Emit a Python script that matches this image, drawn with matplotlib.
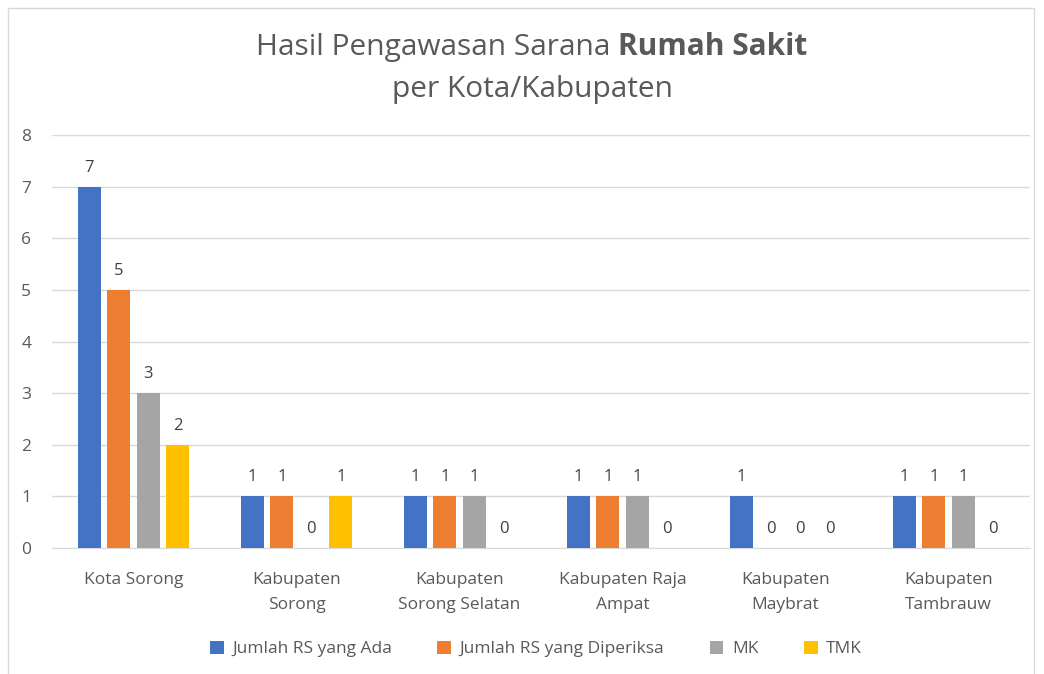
import matplotlib.pyplot as plt
import numpy as np
from matplotlib.patches import Rectangle

plt.rcParams['font.family'] = ['Open Sans', 'DejaVu Sans']

categories = ["Kota Sorong", "Kabupaten\nSorong", "Kabupaten\nSorong Selatan",
              "Kabupaten Raja\nAmpat", "Kabupaten\nMaybrat", "Kabupaten\nTambrauw"]
series_names = ["Jumlah RS yang Ada", "Jumlah RS yang Diperiksa", "MK", "TMK"]
rs_ada = [7, 1, 1, 1, 1, 1]
rs_diperiksa = [5, 1, 1, 1, 0, 1]
mk = [3, 0, 1, 1, 0, 1]
tmk = [2, 1, 0, 0, 0, 0]
colors = ["#4472C4", "#ED7D31", "#A5A5A5", "#FFC000"]

text_col = "#595959"

fig = plt.figure(figsize=(10.44, 6.74), dpi=100)
fig.patches.append(Rectangle((8 / 1044, -0.01), 1026 / 1044, 1 - 8 / 674 + 0.01,
                             transform=fig.transFigure, fill=False,
                             edgecolor="#D9D9D9", linewidth=1))

ax = fig.add_axes([52 / 1044, 1 - 548 / 674, 978 / 1044, 413 / 674])

x = np.arange(len(categories))
width = 0.142
step = 0.181
for i, (vals, name, c) in enumerate(zip([rs_ada, rs_diperiksa, mk, tmk], series_names, colors)):
    pos = x + (i - 1.5) * step
    ax.bar(pos, vals, width=width, color=c, label=name, zorder=3)
    for p, v in zip(pos, vals):
        ax.annotate(str(v), (p, v), xytext=(0, 8), textcoords="offset points",
                    ha="center", va="bottom", fontsize=12, color="#404040")

ax.set_xlim(-0.5, len(categories) - 0.5)
ax.set_ylim(0, 8)
ax.set_yticks(range(0, 9))
ax.yaxis.grid(True, color="#D9D9D9", linewidth=1, zorder=0)
for s in ax.spines.values():
    s.set_visible(False)
ax.spines['bottom'].set_visible(True)
ax.spines['bottom'].set_color("#D9D9D9")
ax.tick_params(axis="both", length=0, labelsize=12.5, colors=text_col)
ax.tick_params(axis="y", pad=15)
ax.tick_params(axis="x", pad=17)
ax.set_xticks(x)
ax.set_xticklabels(categories, linespacing=1.75)

# title, first line has a bold part, centre the whole line
cx = 532 / 1044
t1 = fig.text(cx, 1 - 47 / 674, "Hasil Pengawasan Sarana ", ha="left", va="center",
              fontsize=21.5, color=text_col)
t2 = fig.text(cx, 1 - 47 / 674, "Rumah Sakit", ha="left", va="center",
              fontsize=21.5, color=text_col, fontweight="bold")
fig.text(cx, 1 - 89 / 674, "per Kota/Kabupaten", ha="center", va="center",
         fontsize=21.5, color=text_col)
fig.canvas.draw()
r = fig.canvas.get_renderer()
w1 = t1.get_window_extent(r).width / 1044
w2 = t2.get_window_extent(r).width / 1044
start = cx - (w1 + w2) / 2
t1.set_x(start)
t2.set_x(start + w1)

leg = ax.legend(loc="center", bbox_to_anchor=((536 - 52) / 978, (548 - 649) / 413), ncol=4,
                frameon=False, fontsize=12.5, handlelength=0.8, handleheight=0.8,
                handletextpad=0.5, columnspacing=2.6)
for t in leg.get_texts():
    t.set_color(text_col)

fig.savefig("out.png", dpi=100)
